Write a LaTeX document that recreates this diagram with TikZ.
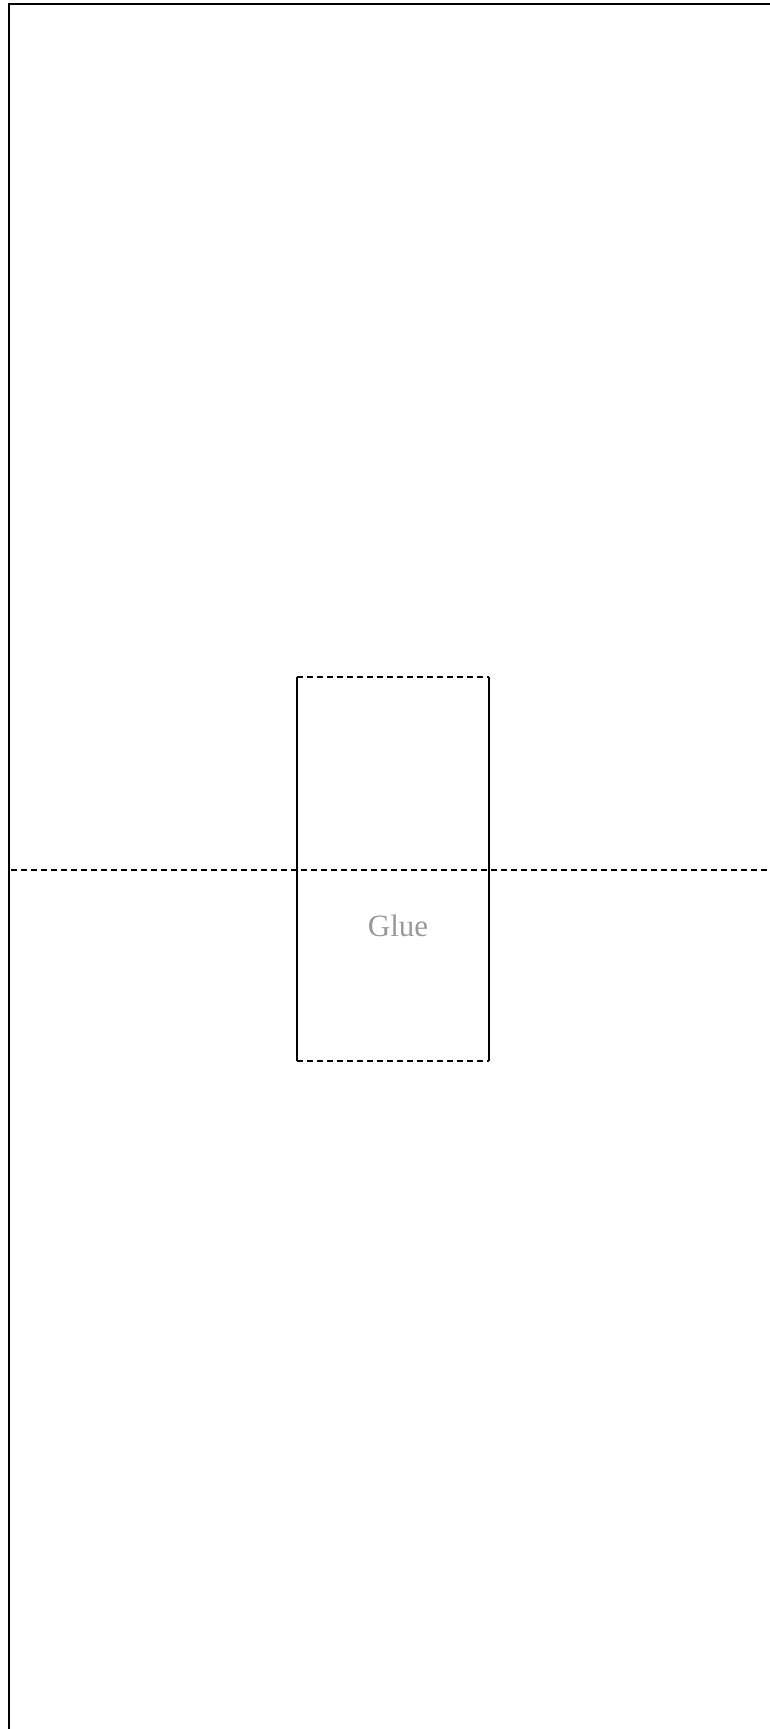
\documentclass[tikz,border=0pt]{standalone}
\usepackage{fontspec}
\setmainfont{Liberation Serif}
\usetikzlibrary{positioning}

\tikzset{
  frameline/.style={line width=0.95pt},
  dashline/.style={line width=1pt,dash pattern=on 3pt off 2pt},
  sideline/.style={line width=1pt},
  gluetext/.style={text=black!40,font=\fontsize{15.5}{18}\selectfont,inner sep=0pt}
}

\begin{document}
\begin{tikzpicture}[x=0.5pt,y=-0.5pt]
\useasboundingbox (0,0) rectangle (770,1729);

% Outer frame (open to the right and below)
\coordinate (frameNW) at (9,4);
\coordinate (frameNE) at (770,4);
\coordinate (frameSW) at (9,1729);
\draw[frameline] (frameNE) -- (frameNW) -- (frameSW);

% Seam across the sheet
\coordinate (seamW) at (11,870);
\coordinate (seamE) at (770,870);
\draw[dashline] (seamW) -- (seamE);

% Glue box: dashed top and bottom, solid sides
\coordinate (boxNW) at (297,677);
\coordinate (boxNE) at (489,677);
\coordinate (boxSW) at (297,1061);
\coordinate (boxSE) at (489,1061);
\draw[dashline] (boxNW) -- (boxNE);
\draw[dashline] (boxSW) -- (boxSE);
\draw[sideline] (boxNW) -- (boxSW);
\draw[sideline] (boxNE) -- (boxSE);

\node[gluetext] (glue) at (398,926) {Glue};

\end{tikzpicture}
\end{document}
